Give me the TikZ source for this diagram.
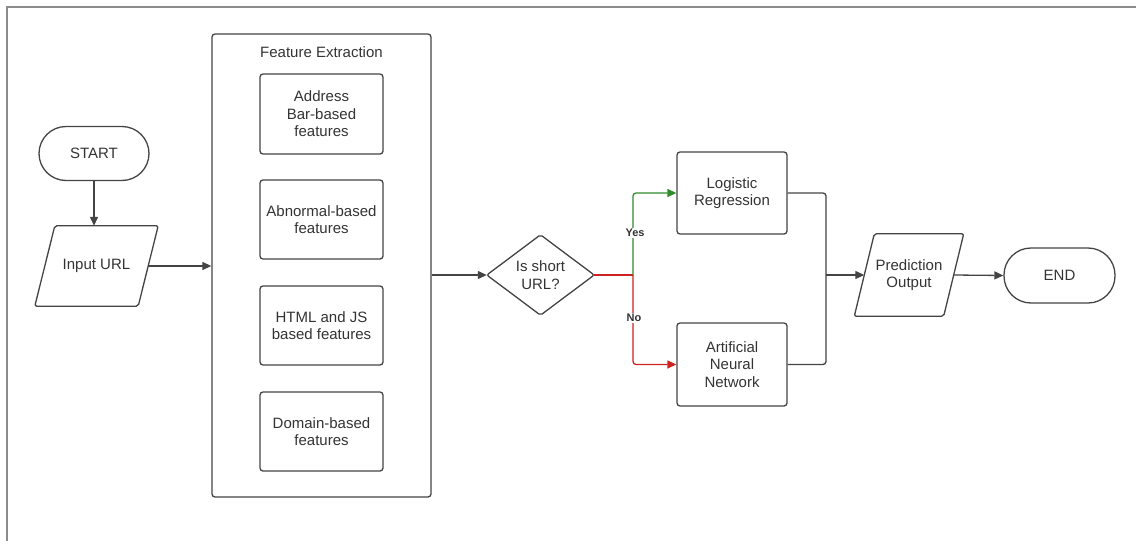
\documentclass[tikz,border=0pt]{standalone}
\usepackage{fontspec}
\setmainfont{Liberation Sans}
\usetikzlibrary{arrows.meta}
\definecolor{ln}{HTML}{444444}
\definecolor{tx}{HTML}{333333}
\definecolor{yesg}{HTML}{2E8B2E}
\definecolor{nor}{HTML}{CC2222}
\begin{document}
\begin{tikzpicture}[x=1pt,y=-1pt,
  every node/.style={text=tx,font=\fontsize{15}{17.5}\selectfont,align=center,inner sep=0pt},
  box/.style={draw=ln,line width=1.3pt,rounded corners=3pt,minimum width=#1},
  term/.style={draw=ln,line width=1.3pt,rounded corners=27pt,minimum width=110pt,minimum height=54pt},
  ghost/.style={draw=none,minimum width=#1},
  tip/.style={-{Triangle[length=9pt,width=8pt]}},
  conn/.style={draw=ln,line width=1.3pt,tip},
  lbl/.style={fill=white,font=\bfseries\fontsize{11}{13}\selectfont,inner sep=1.5pt}]
\useasboundingbox (0,0) rectangle (1136,541);
\draw[draw=gray!90,line width=1.5pt] (7,541) -- (7,7) -- (1136,7);

% Start
\node[term] (start) at (94,153.5) {START};
% Input URL parallelogram
\node[ghost=103pt,minimum height=80pt] (in) at (96.5,266) {Input URL};
\draw[ln,line width=1.3pt,rounded corners=2pt] ([xshift=10pt]in.north west) -- ([xshift=10pt]in.north east) -- ([xshift=-10pt]in.south east) -- ([xshift=-10pt]in.south west) -- cycle;

% Feature extraction
\node[box=219pt,minimum height=463pt] (fe) at (321.5,265.5) {};
\node (fet) at (321.5,52) {Feature Extraction};
\node[box=123pt,minimum height=80pt] (f1) at (321.5,114) {Address\\Bar-based\\features};
\node[box=123pt,minimum height=79pt] (f2) at (321.5,219.5) {Abnormal-based\\features};
\node[box=123pt,minimum height=79pt] (f3) at (321.5,325.5) {HTML and JS\\based features};
\node[box=123pt,minimum height=79pt] (f4) at (321.5,431.5) {Domain-based\\features};

% Decision
\node[ghost=107pt,minimum height=80pt] (d) at (540.5,275) {Is short\\URL?};
\draw[ln,line width=1.3pt,rounded corners=2pt] (d.north) -- (d.east) -- (d.south) -- (d.west) -- cycle;

% Models
\node[box=110pt,minimum height=82pt] (lr) at (732,193) {Logistic\\Regression};
\node[box=110pt,minimum height=83pt] (ann) at (732,364.5) {Artificial\\Neural\\Network};

% Prediction parallelogram
\node[ghost=89pt,minimum height=82pt] (pred) at (909,275) {Prediction\\Output};
\draw[ln,line width=1.3pt,rounded corners=2pt] ([xshift=10pt]pred.north west) -- ([xshift=10pt]pred.north east) -- ([xshift=-10pt]pred.south east) -- ([xshift=-10pt]pred.south west) -- cycle;

% End
\node[term,minimum width=111pt,minimum height=55pt] (end) at (1059.5,275.5) {END};

\coordinate (split) at (633,275);
\coordinate (merge) at (826,275);

% Connectors
\draw[conn] (start.south) -- (in.north -| start.south);
\draw[conn] (in.east) -- (fe.west |- in.east);
\draw[conn] (fe.east |- d.west) -- (d.west);
\draw[draw=nor,line width=1.3pt] (d.east) -- (split);
\draw[draw=yesg,line width=1.3pt,rounded corners=3pt,tip] (split) |- (lr.west);
\draw[draw=nor,line width=1.3pt,rounded corners=3pt,tip] (split) |- (ann.west);
\node[lbl] (yes) at (635,233) {Yes};
\node[lbl] (no) at (634,318) {No};
\draw[ln,line width=1.3pt,rounded corners=3pt] (lr.east) -| (merge);
\draw[ln,line width=1.3pt,rounded corners=3pt] (ann.east) -| (merge);
\draw[conn] (merge) -- (pred.west);
\draw[conn] (pred.east) -- (end.west);
\end{tikzpicture}
\end{document}
